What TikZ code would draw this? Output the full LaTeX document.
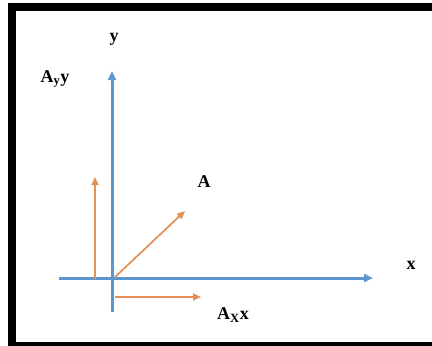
\documentclass[tikz,border=0pt]{standalone}
\usepackage{fontspec}
\setmainfont{Liberation Serif}
\usetikzlibrary{arrows.meta}
\definecolor{axisblue}{HTML}{5B96CC}
\definecolor{vecorange}{HTML}{E39055}
\tikzset{
  axis/.style={draw=axisblue, line width=3pt, -{Triangle[length=9pt,width=8pt]}},
  vec/.style={draw=vecorange, line width=1.7pt, -{Triangle[length=8pt,width=7pt]}},
  lbl/.style={font=\fontsize{18}{20}\selectfont\bfseries, inner sep=0pt},
  framebar/.style={fill=black, draw=none}
}
\begin{document}
\begin{tikzpicture}[x=1pt,y=-1pt]
\useasboundingbox (0,0) rectangle (432,346);
\fill[white] (0,0) rectangle (432,346);
% frame (left, top, bottom; right side lies outside the picture)
\path[framebar] (8,3) rectangle (432,10.5);
\path[framebar] (8,3) rectangle (16,346);
\path[framebar] (8,341.5) rectangle (432,346);
% coordinates
\coordinate (ybot) at (112,312);
\coordinate (ytop) at (112,71);
\coordinate (xleft) at (59,278);
\coordinate (xright) at (373,278);
\coordinate (ay0) at (95,279);
\coordinate (ay1) at (95,177);
\coordinate (a0) at (115,277);
\coordinate (a1) at (185,211);
\coordinate (ax0) at (115,297);
\coordinate (ax1) at (201,297);
% axes
\draw[axis] (ybot) -- (ytop);
\draw[axis] (xleft) -- (xright);
% vectors
\draw[vec] (ay0) -- (ay1);
\draw[vec] (a0) -- (a1);
\draw[vec] (ax0) -- (ax1);
% labels
\node[lbl] (ly) at (114,39) {y};
\node[lbl] (lx) at (411,265) {x};
\node[lbl] (lA) at (204,182) {A};
\node[lbl] (lAy) at (55,79) {A\textsubscript{y}y};
\node[lbl] (lAx) at (233,315) {A\textsubscript{X}x};
\end{tikzpicture}
\end{document}
